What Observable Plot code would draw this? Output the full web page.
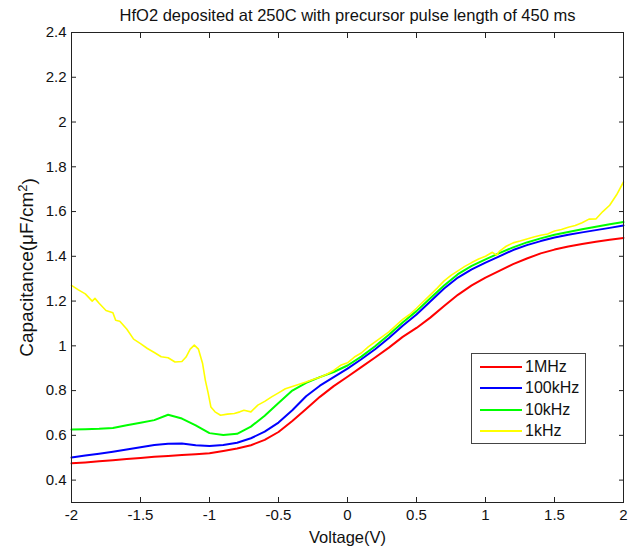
<!DOCTYPE html>
<html>
<head>
<meta charset="utf-8">
<script src="https://cdn.jsdelivr.net/npm/d3@7"></script>
<script src="https://cdn.jsdelivr.net/npm/@observablehq/plot@0.6"></script>
<style>
  body { margin: 0; background: #fff; }
  #wrap { position: relative; width: 634px; height: 548px; font-family: "Liberation Sans", Arial, sans-serif; }
  #legend { position: absolute; left: 471px; top: 353px; width: 115px; height: 91px; border: 1px solid #444; background: #fff; box-sizing: border-box; }
  .row { position: absolute; left: 0; height: 20px; width: 114px; }
  .sw { position: absolute; left: 8px; width: 42px; height: 2px; top: 9px; }
  .lb { position: absolute; left: 53px; top: 0px; font-size: 16px; line-height: 20px; color: #111; }
</style>
</head>
<body>
<div id="wrap"></div>
<script>
const title = "HfO2 deposited at 250C with precursor pulse length of 450 ms";
const xLabel = "Voltage(V)";
const yLabelMain = "Capacitance(μF/cm";
const yLabelSup = "2";
const yLabelEnd = ")";
const seriesNames = ["1MHz", "100kHz", "10kHz", "1kHz"];
const seriesColors = ["#ff0000", "#0000ff", "#00ff00", "#ffff00"];
const xTicks = [-2, -1.5, -1, -0.5, 0, 0.5, 1, 1.5, 2];
const yTicks = [0.4, 0.6, 0.8, 1, 1.2, 1.4, 1.6, 1.8, 2, 2.2, 2.4];

// common voltage grid for the three smooth curves
const voltage = [-2.0,-1.9,-1.8,-1.7,-1.6,-1.5,-1.4,-1.3,-1.2,-1.1,-1.0,-0.9,-0.8,-0.7,-0.6,-0.5,-0.4,-0.3,-0.2,-0.1,0.0,
  0.1,0.2,0.3,0.4,0.5,0.6,0.7,0.8,0.9,1.0,1.1,1.2,1.3,1.4,1.5,1.6,1.7,1.8,1.9,2.0];
const c1MHz = [0.475,0.479,0.484,0.489,0.494,0.499,0.504,0.508,0.512,0.516,0.520,0.530,0.541,0.556,0.580,0.615,0.664,0.718,0.772,0.820,0.862,
  0.905,0.948,0.992,1.040,1.080,1.126,1.178,1.228,1.270,1.305,1.335,1.365,1.390,1.413,1.430,1.444,1.455,1.465,1.474,1.482];
const c100kHz = [0.501,0.510,0.518,0.527,0.537,0.547,0.557,0.563,0.564,0.556,0.552,0.557,0.567,0.587,0.617,0.657,0.712,0.775,0.822,0.860,0.898,
  0.940,0.985,1.035,1.090,1.140,1.198,1.256,1.305,1.342,1.372,1.400,1.428,1.450,1.468,1.484,1.496,1.507,1.517,1.527,1.538];
const c10kHz = [0.626,0.627,0.629,0.633,0.645,0.656,0.668,0.692,0.675,0.645,0.610,0.602,0.607,0.639,0.688,0.745,0.800,0.835,0.860,0.883,0.912,
  0.952,0.998,1.050,1.104,1.155,1.213,1.270,1.320,1.357,1.386,1.414,1.440,1.462,1.480,1.496,1.509,1.521,1.532,1.543,1.553];

// 1kHz curve, read on a finer grid (noisy trace)
const voltage1k = [-2.00,-1.95,-1.90,-1.85,-1.83,-1.80,-1.75,-1.70,-1.68,-1.65,-1.60,-1.55,-1.50,-1.45,-1.40,-1.35,-1.30,-1.25,-1.20,-1.17,-1.14,-1.11,-1.08,-1.05,-1.03,-1.01,-0.99,-0.96,-0.92,-0.87,-0.82,-0.78,-0.75,-0.70,-0.65,-0.60,-0.55,-0.50,-0.45,-0.40,-0.35,-0.30,-0.25,-0.20,-0.15,-0.10,-0.05,
  0.00,0.05,0.10,0.15,0.20,0.25,0.30,0.35,0.40,0.45,0.50,0.55,0.60,0.65,0.70,0.75,0.80,0.85,0.90,0.95,1.00,1.05,1.08,1.10,1.15,1.20,1.25,1.30,1.35,1.40,1.45,1.50,1.55,1.60,1.65,1.70,1.75,1.80,1.85,1.90,1.95,2.00];
const c1kHz = [1.270,1.250,1.232,1.200,1.212,1.190,1.158,1.148,1.114,1.110,1.075,1.030,1.010,0.988,0.970,0.951,0.947,0.928,0.930,0.950,0.985,1.003,0.985,0.921,0.846,0.790,0.727,0.705,0.690,0.695,0.698,0.705,0.712,0.705,0.735,0.752,0.772,0.790,0.808,0.818,0.828,0.838,0.850,0.860,0.873,0.890,0.913,
  0.924,0.950,0.968,0.995,1.018,1.040,1.062,1.090,1.118,1.140,1.168,1.198,1.228,1.258,1.290,1.315,1.335,1.355,1.372,1.388,1.400,1.418,1.405,1.422,1.445,1.460,1.468,1.477,1.486,1.494,1.500,1.513,1.520,1.530,1.538,1.550,1.566,1.567,1.600,1.628,1.675,1.732];

const toRows = (xs, ys) => xs.map((v, i) => ({v, c: ys[i]}));
const series = [
  toRows(voltage, c1MHz),
  toRows(voltage, c100kHz),
  toRows(voltage, c10kHz),
  toRows(voltage1k, c1kHz)
];

const fmt = d => String(d);

const chart = Plot.plot({
  width: 634,
  height: 548,
  marginLeft: 71,
  marginRight: 11,
  marginTop: 32,
  marginBottom: 46,
  style: {fontFamily: "'Liberation Sans', Arial, sans-serif", fontSize: "15px", color: "#111", background: "#fff"},
  x: {domain: [-2, 2]},
  y: {domain: [0.3, 2.4]},
  marks: [
    ...series.map((rows, i) => Plot.line(rows, {x: "v", y: "c", stroke: seriesColors[i], strokeWidth: i === 3 ? 1.6 : 2})),
    Plot.frame({stroke: "#222", strokeWidth: 1}),
    Plot.axisX({anchor: "bottom", ticks: xTicks, tickFormat: fmt, tickSize: 0, tickPadding: 7, fontSize: 15, label: null}),
    Plot.axisY({anchor: "left", ticks: yTicks, tickFormat: fmt, tickSize: 0, tickPadding: 5, fontSize: 15, label: null}),
    Plot.axisX({anchor: "bottom", ticks: xTicks, tickFormat: () => "", tickSize: -5, label: null, stroke: "#222"}),
    Plot.axisX({anchor: "top", ticks: xTicks, tickFormat: () => "", tickSize: -5, label: null, stroke: "#222"}),
    Plot.axisY({anchor: "left", ticks: yTicks, tickFormat: () => "", tickSize: -5, label: null, stroke: "#222"}),
    Plot.axisY({anchor: "right", ticks: yTicks, tickFormat: () => "", tickSize: -5, label: null, stroke: "#222"}),
    Plot.text([title], {frameAnchor: "top", lineAnchor: "middle", textAnchor: "middle", dy: -17, fontSize: 16.5, fill: "#111"}),
    Plot.text([xLabel], {frameAnchor: "bottom", lineAnchor: "middle", textAnchor: "middle", dy: 35, fontSize: 16.5, fill: "#111"}),
    Plot.text([yLabelMain + yLabelSup + yLabelEnd], {frameAnchor: "left", lineAnchor: "middle", textAnchor: "middle", dx: -45, rotate: -90, fontSize: 19, fill: "#111", className: "ylab"})
  ]
});

// render the superscript of the y label as a raised tspan
const yl = chart.querySelector(".ylab text");
if (yl) {
  yl.textContent = "";
  const ns = "http://www.w3.org/2000/svg";
  const t1 = document.createElementNS(ns, "tspan"); t1.textContent = yLabelMain;
  const t2 = document.createElementNS(ns, "tspan"); t2.textContent = yLabelSup;
  t2.setAttribute("dy", "-0.45em"); t2.setAttribute("font-size", "13");
  const t3 = document.createElementNS(ns, "tspan"); t3.textContent = yLabelEnd;
  t3.setAttribute("dy", "0.45em");
  yl.append(t1, t2, t3);
}

const wrap = document.getElementById("wrap");
wrap.appendChild(chart);

const legend = document.createElement("div");
legend.id = "legend";
seriesNames.forEach((name, i) => {
  const row = document.createElement("div");
  row.className = "row";
  row.style.top = (3 + i * 21.3) + "px";
  const sw = document.createElement("div");
  sw.className = "sw";
  sw.style.background = seriesColors[i];
  const lb = document.createElement("div");
  lb.className = "lb";
  lb.textContent = name;
  row.appendChild(sw);
  row.appendChild(lb);
  legend.appendChild(row);
});
wrap.appendChild(legend);
</script>
</body>
</html>
